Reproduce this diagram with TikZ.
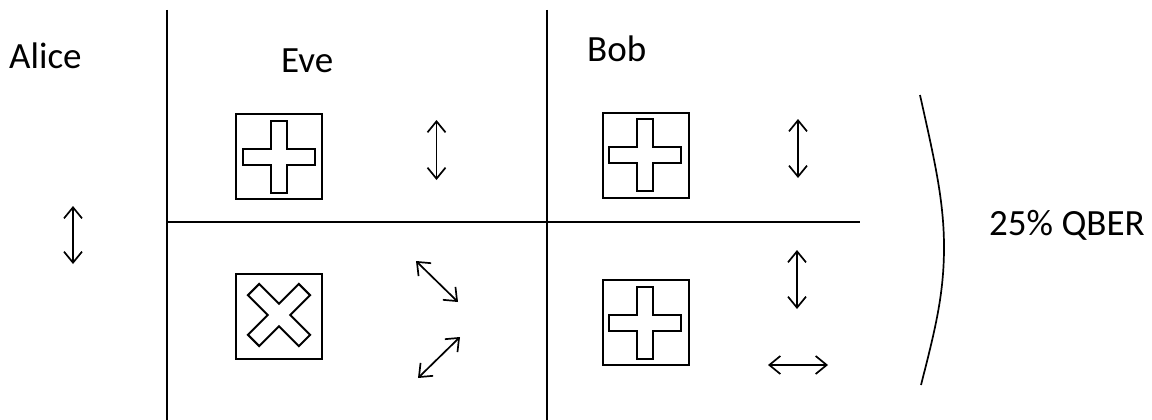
\documentclass[tikz,border=0pt]{standalone}
\usepackage{fontspec}
\setmainfont{Carlito}
\usetikzlibrary{arrows.meta}
\begin{document}
\begin{tikzpicture}[x=1pt,y=-1pt,
  rule/.style={line width=1.8pt},
  label/.style={anchor=base west,inner sep=0pt,font=\fontsize{37}{42}\selectfont},
  basisbox/.style={draw,line width=2pt,minimum width=86pt,minimum height=85pt,inner sep=0pt},
  polar/.style={line width=1.7pt,{Straight Barb[length=11pt,width=18pt]}-{Straight Barb[length=11pt,width=18pt]}},
  pics/crossmark/.style={code={
    \draw[line width=2pt,line join=miter]
      (-8,-36) -- (8,-36) -- (8,-8) -- (36,-8) -- (36,8) -- (8,8) -- (8,36)
      -- (-8,36) -- (-8,8) -- (-36,8) -- (-36,-8) -- (-8,-8) -- cycle;
  }}]
\useasboundingbox (0,0) rectangle (1152,420);

% grid of the table
\coordinate (v1t) at (167,10);  \coordinate (v1b) at (167,420);
\coordinate (v2t) at (547,10);  \coordinate (v2b) at (547,420);
\coordinate (hl)  at (167,222); \coordinate (hr)  at (860,222);
\draw[rule] (v1t) -- (v1b);
\draw[rule] (v2t) -- (v2b);
\draw[rule] (hl) -- (hr);

% headings
\node[label] (alice) at (9,69) {Alice};
\node[label] (eve) at (281,73) {Eve};
\node[label] (bob) at (587,62) {Bob};
\node[label] (qber) at (989,235) {25\% QBER};

% measurement bases
\node[basisbox] (evetop) at (278.5,156.5) {};
\pic at (278.5,157) {crossmark};
\node[basisbox] (evebot) at (279,316) {};
\pic[rotate=45] at (279,315) {crossmark};
\node[basisbox] (bobtop) at (646,155.5) {};
\pic at (645,155) {crossmark};
\node[basisbox] (bobbot) at (646,322.5) {};
\pic at (645,323) {crossmark};

% polarisation states
\coordinate (a1) at (73,206);   \coordinate (a2) at (73,264);
\draw[polar] (a1) -- (a2);
\coordinate (e1) at (436.5,120); \coordinate (e2) at (436.5,180);
\draw[polar] (e1) -- (e2);
\coordinate (e3) at (416,261);  \coordinate (e4) at (458,302);
\draw[polar] (e3) -- (e4);
\coordinate (e5) at (460,337);  \coordinate (e6) at (418,378);
\draw[polar] (e5) -- (e6);
\coordinate (b1) at (798,119);  \coordinate (b2) at (798,178);
\draw[polar] (b1) -- (b2);
\coordinate (b3) at (797,250);  \coordinate (b4) at (797,309);
\draw[polar] (b3) -- (b4);
\coordinate (b5) at (768,365);  \coordinate (b6) at (828,365);
\draw[polar] (b5) -- (b6);

% bracket gathering Bob's results
\coordinate (brt) at (920,95);
\coordinate (brm) at (944,247);
\coordinate (brb) at (921,385);
\draw[line width=1.7pt] (brt) .. controls (934,158) and (944,200) .. (brm)
  .. controls (944,295) and (935,330) .. (brb);
\end{tikzpicture}
\end{document}
